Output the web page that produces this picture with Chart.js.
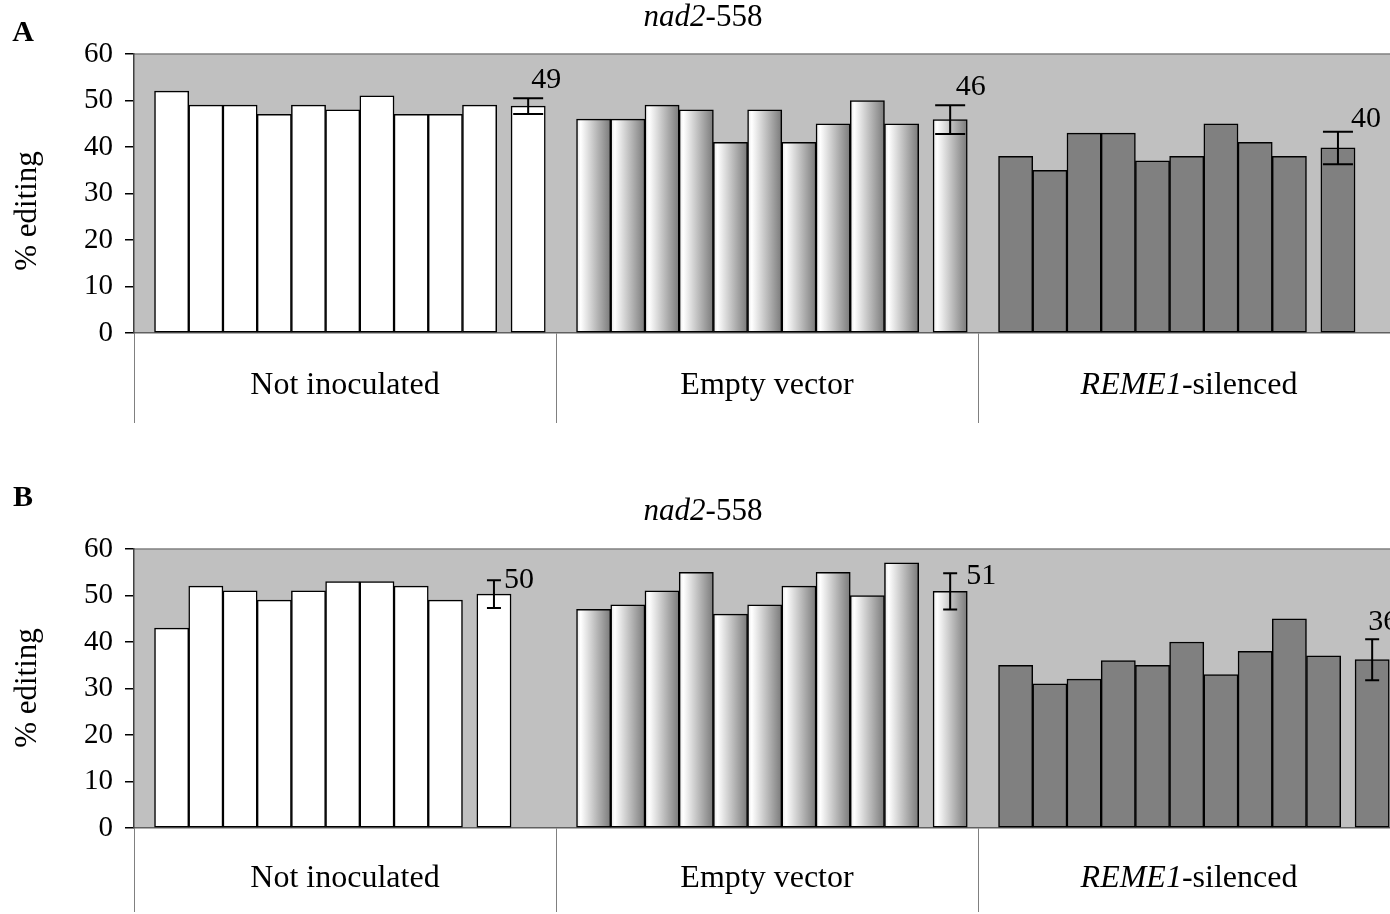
<!DOCTYPE html>
<html>
<head>
<meta charset="utf-8">
<script src="https://cdn.jsdelivr.net/npm/chart.js@4"></script>
<style>
  body { margin: 0; overflow: hidden; background: #fff; }
  .panel { position: absolute; left: 0; width: 1412px; height: 457px; }
</style>
</head>
<body>
<div class="panel" style="top:0"><canvas id="chartA"></canvas></div>
<div class="panel" style="top:457px"><canvas id="chartB"></canvas></div>
<script>
// data
const groupNames = ['Not inoculated', 'Empty vector', 'REME1-silenced'];
const groupItalic = ['', '', 'REME1'];
const titleText = 'nad2-558';
const titleItalic = 'nad2';
const yTicks = [0, 10, 20, 30, 40, 50, 60];

const samplesA = [
  [52, 49, 49, 47, 49, 48, 51, 47, 47, 49],
  [46, 46, 49, 48, 41, 48, 41, 45, 50, 45],
  [38, 35, 43, 43, 37, 38, 45, 41, 38]
];
const meansA = [48.8, 45.9, 39.8];
const errorsA = [1.7, 3.1, 3.5];
const meanLabelsA = ['49', '46', '40'];

const samplesB = [
  [43, 52, 51, 49, 51, 53, 53, 52, 49],
  [47, 48, 51, 55, 46, 48, 52, 55, 50, 57],
  [35, 31, 32, 36, 35, 40, 33, 38, 45, 37]
];
const meansB = [50.3, 50.9, 36.2];
const errorsB = [3.0, 3.9, 4.4];
const meanLabelsB = ['50', '51', '36'];

// layout of a group on the x axis, in bar widths
const G = 37 / 3, PAD = 0.6, GAP = 0.42;
const serif = "'Liberation Serif', 'Times New Roman', serif";

function samplePoints(samples) {
  const pts = [];
  samples.forEach((list, g) => list.forEach((v, i) => pts.push({ x: g * G + PAD + i + 0.5, y: v, g })));
  return pts;
}
function meanPoints(samples, means) {
  return means.map((m, g) => ({ x: g * G + PAD + samples[g].length + GAP + 0.5, y: m, g }));
}

function barFill(ctx) {
  const raw = ctx.raw;
  if (!raw || raw.g === 0) return '#ffffff';
  if (raw.g === 2) return '#808080';
  const xs = ctx.chart.scales.x;
  const c = xs.getPixelForValue(raw.x);
  const h = (xs.getPixelForValue(1) - xs.getPixelForValue(0)) / 2;
  const grad = ctx.chart.ctx.createLinearGradient(c - h, 0, c + h, 0);
  grad.addColorStop(0, '#e8e8e8');
  grad.addColorStop(0.12, '#ffffff');
  grad.addColorStop(1, '#7a7a7a');
  return grad;
}

function richText(c, text, italicPart, cx, cy, size) {
  const rest = text.slice(italicPart.length);
  c.font = 'italic ' + size + 'px ' + serif;
  const w1 = italicPart ? c.measureText(italicPart).width : 0;
  c.font = size + 'px ' + serif;
  const w2 = c.measureText(rest).width;
  let x = cx - (w1 + w2) / 2;
  c.textAlign = 'left';
  c.textBaseline = 'middle';
  c.fillStyle = '#000';
  if (italicPart) {
    c.font = 'italic ' + size + 'px ' + serif;
    c.fillText(italicPart, x, cy);
    x += w1;
  }
  c.font = size + 'px ' + serif;
  c.fillText(rest, x, cy);
}

const panelPlugin = {
  id: 'panel',
  beforeDraw(chart) {
    const { ctx, chartArea: a } = chart;
    ctx.save();
    ctx.fillStyle = '#c0c0c0';
    ctx.fillRect(a.left, a.top, a.right - a.left, a.bottom - a.top);
    ctx.strokeStyle = '#808080';
    ctx.lineWidth = 1.5;
    ctx.beginPath();
    ctx.moveTo(a.left, a.top);
    ctx.lineTo(a.right, a.top);
    ctx.stroke();
    ctx.restore();
  },
  afterDatasetsDraw(chart, args, o) {
    const { ctx, scales: { x, y } } = chart;
    const pts = chart.data.datasets[1].data;
    ctx.save();
    ctx.strokeStyle = '#000';
    ctx.lineWidth = 2;
    pts.forEach((p, g) => {
      const cx = x.getPixelForValue(p.x);
      const top = y.getPixelForValue(p.y + o.errors[g]);
      const bot = y.getPixelForValue(p.y - o.errors[g]);
      ctx.beginPath();
      ctx.moveTo(cx, top); ctx.lineTo(cx, bot);
      ctx.moveTo(cx - o.cap / 2, top); ctx.lineTo(cx + o.cap / 2, top);
      ctx.moveTo(cx - o.cap / 2, bot); ctx.lineTo(cx + o.cap / 2, bot);
      ctx.stroke();
      ctx.fillStyle = '#000';
      ctx.font = '30px ' + serif;
      ctx.textAlign = 'left';
      ctx.textBaseline = 'middle';
      ctx.fillText(o.labels[g], cx + o.labelOffsets[g][0], top + o.labelOffsets[g][1]);
    });
    ctx.restore();
  },
  afterDraw(chart, args, o) {
    const { ctx, scales: { x } } = chart;
    ctx.save();
    richText(ctx, titleText, titleItalic, 703, o.titleY, 31);
    ctx.font = 'bold 30px ' + serif;
    ctx.textAlign = 'center';
    ctx.textBaseline = 'middle';
    ctx.fillText(o.letter, 23, o.letterY);
    groupNames.forEach((name, g) => {
      richText(ctx, name, groupItalic[g], x.getPixelForValue(g * G + G / 2), o.catY, 32);
    });
    ctx.translate(28, o.yTitleY);
    ctx.rotate(-Math.PI / 2);
    richText(ctx, '% editing', '', 0, 0, 31);
    ctx.restore();
  }
};

const barStyle = {
  grouped: false,
  barPercentage: 1,
  categoryPercentage: 1,
  backgroundColor: barFill,
  borderColor: '#000',
  borderWidth: 1.5,
  borderSkipped: false
};

function makeChart(id, samples, means, errors, labels, p) {
  new Chart(document.getElementById(id), {
    type: 'bar',
    data: {
      datasets: [
        Object.assign({ data: samplePoints(samples) }, barStyle),
        Object.assign({ data: meanPoints(samples, means) }, barStyle)
      ]
    },
    options: {
      responsive: true,
      maintainAspectRatio: false,
      animation: false,
      events: [],
      layout: { padding: { top: p.top, right: 12, left: 0, bottom: 0 } },
      scales: {
        x: {
          type: 'linear',
          min: 0,
          max: 3 * G,
          offset: false,
          afterBuildTicks: s => { s.ticks = [0, 1, 2, 3].map(k => ({ value: k * G })); },
          afterFit: s => { s.height = p.axisH; },
          ticks: { display: false },
          grid: { offset: false, drawOnChartArea: false, tickLength: p.sepLen, color: '#808080', lineWidth: 1 },
          border: { color: '#606060', width: 1.5 }
        },
        y: {
          min: 0,
          max: 60,
          afterBuildTicks: s => { s.ticks = yTicks.map(v => ({ value: v })); },
          afterFit: s => { s.width = 134; },
          ticks: { font: { family: serif, size: 29 }, color: '#000', padding: 12 },
          grid: { drawOnChartArea: false, tickLength: 9, color: '#000', lineWidth: 1.5 },
          border: { color: '#404040', width: 1.5 }
        }
      },
      plugins: {
        colors: { enabled: false },
        legend: { display: false },
        tooltip: { enabled: false },
        panel: {
          errors: errors,
          labels: labels,
          labelOffsets: p.labelOffsets,
          cap: p.cap,
          titleY: p.titleY,
          letter: p.letter,
          letterY: p.letterY,
          catY: p.catY,
          yTitleY: p.yTitleY
        }
      }
    },
    plugins: [panelPlugin]
  });
}

makeChart('chartA', samplesA, meansA, errorsA, meanLabelsA, {
  top: 54, axisH: 124, sepLen: 90, cap: 30,
  labelOffsets: [[3, -18], [5.5, -18], [13, -13]],
  titleY: 18, letter: 'A', letterY: 33, catY: 386, yTitleY: 211
});
makeChart('chartB', samplesB, meansB, errorsB, meanLabelsB, {
  top: 92, axisH: 86, sepLen: 84, cap: 14,
  labelOffsets: [[10, 0], [16, 3], [-4, -17]],
  titleY: 55, letter: 'B', letterY: 41, catY: 422, yTitleY: 231
});
</script>
</body>
</html>
